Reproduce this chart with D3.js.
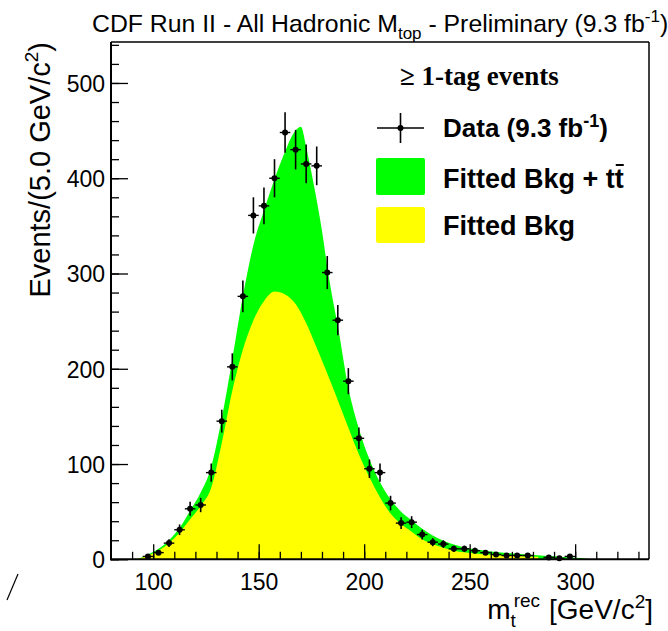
<!DOCTYPE html>
<html>
<head>
<meta charset="utf-8">
<script src="https://cdn.jsdelivr.net/npm/d3@7"></script>
<style>
  body { margin: 0; background: #fff; }
  svg { display: block; }
  text { font-family: "Liberation Sans", Arial, Helvetica, sans-serif; fill: #000; }
</style>
</head>
<body>
<script>
// Reconstructed top-quark mass, 5 GeV/c^2 bins (bin centres)
const binCenters = [97.5, 102.5, 107.5, 112.5, 117.5, 122.5, 127.5, 132.5, 137.5, 142.5,
  147.5, 152.5, 157.5, 162.5, 167.5, 172.5, 177.5, 182.5, 187.5, 192.5,
  197.5, 202.5, 207.5, 212.5, 217.5, 222.5, 227.5, 232.5, 237.5, 242.5,
  247.5, 252.5, 257.5, 262.5, 267.5, 272.5, 277.5, 282.5, 287.5, 292.5, 297.5];
const dataCounts = [3, 7, 17, 31, 53, 57, 91, 145, 202, 276,
  361, 371, 400, 448, 430, 415, 413, 301, 251, 187,
  127, 95, 91, 59, 38, 39, 26, 18, 16, 11,
  11, 9, 7, 5, 4, 4, 4, 0, 2, 1, 3];

// Fitted background + ttbar template
const fitX = [92.5, 97.5, 102.5, 107.5, 112.5, 117.5, 122.5, 127.5, 132.5, 137.5,
  142.5, 147.5, 152.5, 157.5, 162.5, 165, 167.5, 170, 172.5, 175,
  177.5, 180, 182.5, 185, 187.5, 192.5, 197.5, 202.5, 207.5, 212.5,
  217.5, 222.5, 227.5, 232.5, 237.5, 242.5, 247.5, 252.5, 257.5, 262.5,
  267.5, 272.5, 277.5, 282.5, 287.5, 292.5, 297.5, 302.5, 307.5];
const fitTotal = [0, 5, 11, 20, 33, 51, 70, 97, 148, 210,
  276, 330, 366, 399, 428, 441, 450, 454, 433, 406,
  377, 345, 307, 274, 245, 180, 137, 105, 81, 63,
  50, 41, 32, 25, 19.5, 15.5, 12.5, 10.5, 9, 7.7,
  6.7, 5.8, 5, 4.2, 3.4, 2.7, 2, 1.4, 0];

// Fitted background alone
const bkgX = [92.5, 97.5, 102.5, 107.5, 112.5, 117.5, 122.5, 127.5, 132.5, 137.5,
  142.5, 147.5, 152.5, 157.5, 162.5, 167.5, 172.5, 177.5, 182.5, 187.5,
  192.5, 197.5, 202.5, 207.5, 212.5, 217.5, 222.5, 227.5, 232.5, 237.5,
  242.5, 247.5, 252.5, 257.5, 262.5, 267.5, 272.5, 277.5, 282.5];
const bkgFit = [0, 4, 9, 17, 28, 42, 56, 75, 122, 177,
  220, 251, 271, 281, 278, 268, 248, 222, 195, 167,
  138, 110, 86, 65, 48, 37, 29, 21, 16, 12,
  9, 7.3, 6, 5, 4.3, 3.8, 3.4, 3, 2.6];

const xMajorTicks = [100, 150, 200, 250, 300];
const xMinorTicks = d3.range(90, 335, 10);
const yMajorTicks = [0, 100, 200, 300, 400, 500];
const yMinorTicks = d3.range(0, 543, 20);
const binWidth = 5;

const W = 668, H = 631;
const frame = { left: 111, right: 649, top: 42, bottom: 559.3 };

const svg = d3.select("body").append("svg")
  .attr("width", W).attr("height", H);

const x = d3.scaleLinear().domain([80, 335]).range([frame.left, frame.right]);
const y = d3.scaleLinear().domain([0, 543]).range([frame.bottom, frame.top]);

// Filled fit curves
const area = d3.area()
  .x(d => x(d[0]))
  .y0(y(0))
  .y1(d => y(d[1]))
  .curve(d3.curveMonotoneX);

svg.append("path")
  .datum(fitX.map((v, i) => [v, fitTotal[i]]))
  .attr("d", area)
  .attr("fill", "#00ff00");

svg.append("path")
  .datum(bkgX.map((v, i) => [v, bkgFit[i]]))
  .attr("d", area)
  .attr("fill", "#ffff00");

// Axes: ticks point into the frame
function styleAxis(g) {
  g.select(".domain").remove();
  g.selectAll(".tick line").attr("stroke", "#000").attr("stroke-width", 1.3);
}

svg.append("g")
  .attr("transform", `translate(0,${frame.bottom})`)
  .call(d3.axisBottom(x).tickValues(xMinorTicks).tickSize(-7.5).tickFormat(""))
  .call(styleAxis)
  .selectAll("text").remove();

const gx = svg.append("g")
  .attr("transform", `translate(0,${frame.bottom})`)
  .call(d3.axisBottom(x).tickValues(xMajorTicks).tickSize(-15).tickFormat(d3.format("d")))
  .call(styleAxis);
gx.selectAll(".tick text")
  .attr("y", 590 - frame.bottom).attr("dy", null)
  .style("font-size", "23px")
  .style("font-family", '"Liberation Sans", Arial, sans-serif');

svg.append("g")
  .attr("transform", `translate(${frame.left},0)`)
  .call(d3.axisLeft(y).tickValues(yMinorTicks).tickSize(-8).tickFormat(""))
  .call(styleAxis)
  .selectAll("text").remove();

const gy = svg.append("g")
  .attr("transform", `translate(${frame.left},0)`)
  .call(d3.axisLeft(y).tickValues(yMajorTicks).tickSize(-17).tickFormat(d3.format("d")))
  .call(styleAxis);
gy.selectAll(".tick text")
  .attr("x", -6).attr("dy", "0.36em")
  .style("font-size", "23px")
  .style("font-family", '"Liberation Sans", Arial, sans-serif');

// Frame
svg.append("line").attr("x1", frame.left).attr("x2", frame.left)
  .attr("y1", frame.top).attr("y2", frame.bottom + 1)
  .attr("stroke", "#000").attr("stroke-width", 2);
svg.append("line").attr("x1", frame.left - 1).attr("x2", frame.right)
  .attr("y1", frame.bottom).attr("y2", frame.bottom)
  .attr("stroke", "#000").attr("stroke-width", 2);
svg.append("line").attr("x1", frame.left).attr("x2", frame.right)
  .attr("y1", frame.top).attr("y2", frame.top)
  .attr("stroke", "#000").attr("stroke-width", 1.3);
svg.append("line").attr("x1", frame.right).attr("x2", frame.right)
  .attr("y1", frame.top).attr("y2", frame.bottom)
  .attr("stroke", "#000").attr("stroke-width", 1.5);

// Data points with Poisson errors
const pts = binCenters.map((c, i) => ({ c, n: dataCounts[i] })).filter(d => d.n > 0);
const gp = svg.append("g");
gp.selectAll("line.ey").data(pts).join("line")
  .attr("x1", d => x(d.c)).attr("x2", d => x(d.c))
  .attr("y1", d => y(d.n + Math.sqrt(d.n))).attr("y2", d => y(Math.max(0, d.n - Math.sqrt(d.n))))
  .attr("stroke", "#000").attr("stroke-width", 1.6);
gp.selectAll("line.ex").data(pts).join("line")
  .attr("x1", d => x(d.c - binWidth / 2)).attr("x2", d => x(d.c + binWidth / 2))
  .attr("y1", d => y(d.n)).attr("y2", d => y(d.n))
  .attr("stroke", "#000").attr("stroke-width", 1.4);
gp.selectAll("circle").data(pts).join("circle")
  .attr("cx", d => x(d.c)).attr("cy", d => y(d.n)).attr("r", 3)
  .attr("fill", "#000");

// Title
const title = svg.append("text").attr("x", 92).attr("y", 31.5).style("font-size", "24.8px");
title.append("tspan").text("CDF Run II - All Hadronic M");
title.append("tspan").attr("dy", 7).style("font-size", "17px").text("top");
title.append("tspan").attr("dy", -7).text(" - Preliminary (9.3 fb");
title.append("tspan").attr("dy", -10).style("font-size", "17px").text("-1");
title.append("tspan").attr("dy", 10).text(")");

// Y-axis title (rotated, aligned to top of axis)
const yt = svg.append("text")
  .attr("transform", "translate(50,42) rotate(-90)")
  .attr("text-anchor", "end")
  .style("font-size", "29px");
yt.append("tspan").text("Events/(5.0 GeV/c");
yt.append("tspan").attr("dy", -12).style("font-size", "19px").text("2");
yt.append("tspan").attr("dy", 12).text(")");

// X-axis title, right aligned
const xtRight = svg.append("text")
  .attr("x", 653).attr("y", 619).attr("text-anchor", "end")
  .style("font-size", "28px");
xtRight.append("tspan").text("[GeV/c");
xtRight.append("tspan").attr("dy", -11).style("font-size", "19px").text("2");
xtRight.append("tspan").attr("dy", 11).text("]");
const wRight = xtRight.node().getComputedTextLength();
const supX = 653 - wRight - 9;
svg.append("text").attr("x", supX).attr("y", 607).attr("text-anchor", "end")
  .style("font-size", "19px").text("rec");
const recW = 19 * 1.556;
svg.append("text").attr("x", supX - recW).attr("y", 627)
  .style("font-size", "19px").text("t");
svg.append("text").attr("x", supX - recW).attr("y", 619).attr("text-anchor", "end")
  .style("font-size", "28px").text("m");

// Legend
svg.append("text").attr("x", 400).attr("y", 85)
  .style("font-family", '"Liberation Serif", "Times New Roman", serif')
  .style("font-weight", "bold").style("font-size", "27px")
  .text("\u2265 1-tag events");

const legendMarkX = 400.5, legendMarkY = 128;
svg.append("line").attr("x1", 377).attr("x2", 424)
  .attr("y1", legendMarkY).attr("y2", legendMarkY)
  .attr("stroke", "#000").attr("stroke-width", 1.4);
svg.append("line").attr("x1", legendMarkX).attr("x2", legendMarkX)
  .attr("y1", 113).attr("y2", 143)
  .attr("stroke", "#000").attr("stroke-width", 1.6);
svg.append("circle").attr("cx", legendMarkX).attr("cy", legendMarkY).attr("r", 3).attr("fill", "#000");

const ld = svg.append("text").attr("x", 443).attr("y", 137)
  .style("font-weight", "bold").style("font-size", "26px");
ld.append("tspan").text("Data (9.3 fb");
ld.append("tspan").attr("dy", -10).style("font-size", "18px").text("-1");
ld.append("tspan").attr("dy", 10).text(")");

svg.append("rect").attr("x", 376).attr("y", 158).attr("width", 49).attr("height", 37)
  .attr("rx", 2).attr("fill", "#00ff00");
const lg = svg.append("text").attr("x", 443).attr("y", 188)
  .style("font-weight", "bold").style("font-size", "27px")
  .text("Fitted Bkg + tt");
{
  const node = lg.node();
  const n = node.getNumberOfChars();
  const s = node.getStartPositionOfChar(n - 1);
  const e = node.getEndPositionOfChar(n - 1);
  svg.append("line").attr("x1", s.x + 1).attr("x2", e.x)
    .attr("y1", 165).attr("y2", 165)
    .attr("stroke", "#000").attr("stroke-width", 2);
}

svg.append("rect").attr("x", 376).attr("y", 207).attr("width", 49).attr("height", 36)
  .attr("rx", 2).attr("fill", "#ffff00");
svg.append("text").attr("x", 443).attr("y", 235)
  .style("font-weight", "bold").style("font-size", "27px")
  .text("Fitted Bkg");

// Stray pen stroke at lower left
svg.append("line").attr("x1", 7).attr("y1", 600).attr("x2", 18).attr("y2", 574)
  .attr("stroke", "#000").attr("stroke-width", 1.2);
</script>
</body>
</html>
